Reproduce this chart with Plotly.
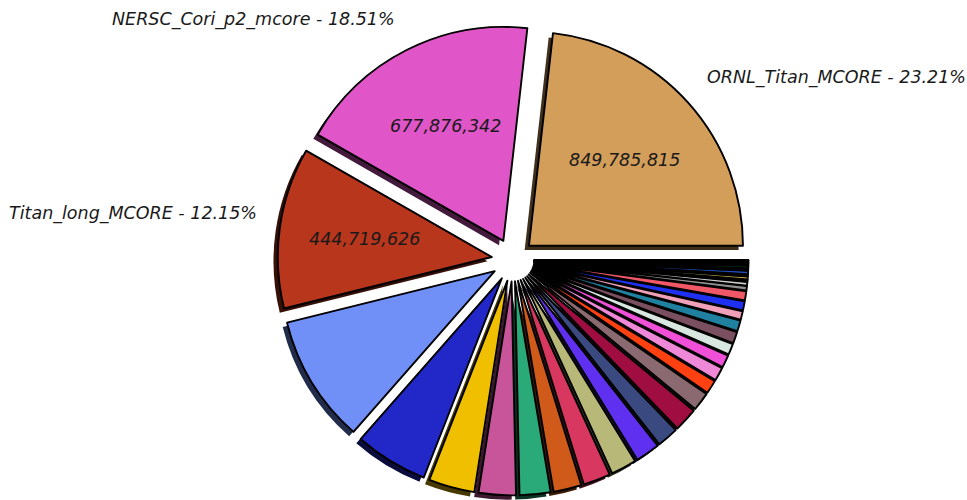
import math
import plotly.graph_objects as go

# ---------------- data ----------------
labels = [
    "ORNL_Titan_MCORE", "NERSC_Cori_p2_mcore", "Titan_long_MCORE",
    "Site_04", "Site_05", "Site_06", "Site_07", "Site_08", "Site_09", "Site_10",
    "Site_11", "Site_12", "Site_13", "Site_14", "Site_15", "Site_16", "Site_17",
    "Site_18", "Site_19", "Site_20", "Site_21", "Site_22", "Site_23", "Site_24",
    "Site_25", "Site_26", "Site_27", "Site_28", "Site_29", "Site_30", "Site_31",
    "Site_32", "Site_33", "Site_34", "Site_35", "Site_36",
]
values = [
    849785815, 677876342, 444719626,
    353700000, 202400000, 127130000, 102730000, 85430000, 77300000, 75260000,
    71200000, 67130000, 58990000, 66110000, 50850000, 37630000, 36610000,
    34580000, 30510000, 31530000, 29500000, 23390000, 25430000, 25430000,
    12200000, 10170000, 5090000, 8140000, 5090000, 9150000, 6100000,
    6100000, 5090000, 4070000, 3050000, 2030000,
]
colors = [
    "#D39E5A", "#E055C8", "#B8361C",
    "#7090F8", "#2228C8", "#F0C000", "#C8559A", "#2AAA78", "#D05A1A", "#D83860",
    "#B8B878", "#6030F0", "#3A4A80", "#A00D40", "#8A6A70", "#FF4010", "#F088D8",
    "#F050D8", "#D8E8E0", "#7A5060", "#2080A0", "#F0A0B8", "#2030F0", "#F05868",
    "#909090", "#D0D0D0", "#303030", "#C8B850", "#202840", "#2050C0", "#102060",
    "#207030", "#101010", "#203020", "#100820", "#000000",
]
n_labelled = 3

# ---------------- layout constants ----------------
W, H = 967, 500
PULL = 0.1
dom_x = [0.28707, 0.77394]
dom_y = [0.0092, 0.9508]
SH_DX, SH_DY = -4.3 / W, -4.3 / H

total = float(sum(values))
# first slice starts at 3 o'clock and the slices run counterclockwise
# (plotly puts the counterclockwise-most edge of the first slice at `rotation`)
rotation = 90 - values[0] / total * 360


def darken(hx, f=0.3):
    hx = hx.lstrip("#")
    r, g, b = (int(hx[i:i + 2], 16) for i in (0, 2, 4))
    return "#%02x%02x%02x" % (int(r * f), int(g * f), int(b * f))


shadow_colors = [darken(c) for c in colors]

fig = go.Figure()

# shadow copy (drawn first, underneath)
fig.add_trace(go.Pie(
    labels=labels, values=values, sort=False, direction="counterclockwise",
    rotation=rotation, pull=PULL, textinfo="none", hoverinfo="skip",
    marker=dict(colors=shadow_colors, line=dict(width=0)),
    domain=dict(x=[dom_x[0] + SH_DX, dom_x[1] + SH_DX],
                y=[dom_y[0] + SH_DY, dom_y[1] + SH_DY]),
    showlegend=False,
))

# main pie
fig.add_trace(go.Pie(
    labels=labels, values=values, sort=False, direction="counterclockwise",
    rotation=rotation, pull=PULL, textinfo="none",
    hoverinfo="label+value+percent",
    marker=dict(colors=colors, line=dict(color="#000000", width=1.9)),
    domain=dict(x=dom_x, y=dom_y),
    showlegend=False,
))

# ---------------- labels (computed from the data) ----------------
box_w = (dom_x[1] - dom_x[0]) * W
box_h = (dom_y[1] - dom_y[0]) * H
r = min(box_w, box_h) / 2 / (1 + PULL)
cx = (dom_x[0] + dom_x[1]) / 2 * W
cy = (1 - (dom_y[0] + dom_y[1]) / 2) * H

font = dict(family="DejaVu Sans", size=17.5, color="#1a1a1a", style="italic")
annotations = []
cum = 0.0
for i, v in enumerate(values):
    mid = (cum + v / 2) / total * 2 * math.pi
    cum += v
    if i >= n_labelled:
        continue
    c, s = math.cos(mid), math.sin(mid)
    # value inside the slice
    px, py = cx + 0.7 * r * c, cy - 0.7 * r * s
    annotations.append(dict(
        x=px / W, y=1 - py / H, xref="paper", yref="paper",
        text=f"{v:,}", showarrow=False, font=font,
        xanchor="center", yanchor="middle"))
    # name and share outside
    px, py = cx + 1.2 * r * c, cy - 1.2 * r * s
    annotations.append(dict(
        x=px / W, y=1 - py / H, xref="paper", yref="paper",
        text=f"{labels[i]} - {v / total * 100:.2f}%", showarrow=False,
        font=font, xanchor="left" if c > 0 else "right", yanchor="middle",
        yshift=11))

fig.update_layout(
    width=W, height=H, autosize=False,
    margin=dict(l=0, r=0, t=0, b=0),
    paper_bgcolor="#ffffff", plot_bgcolor="#ffffff",
    annotations=annotations,
)

fig.write_html("out.html")
